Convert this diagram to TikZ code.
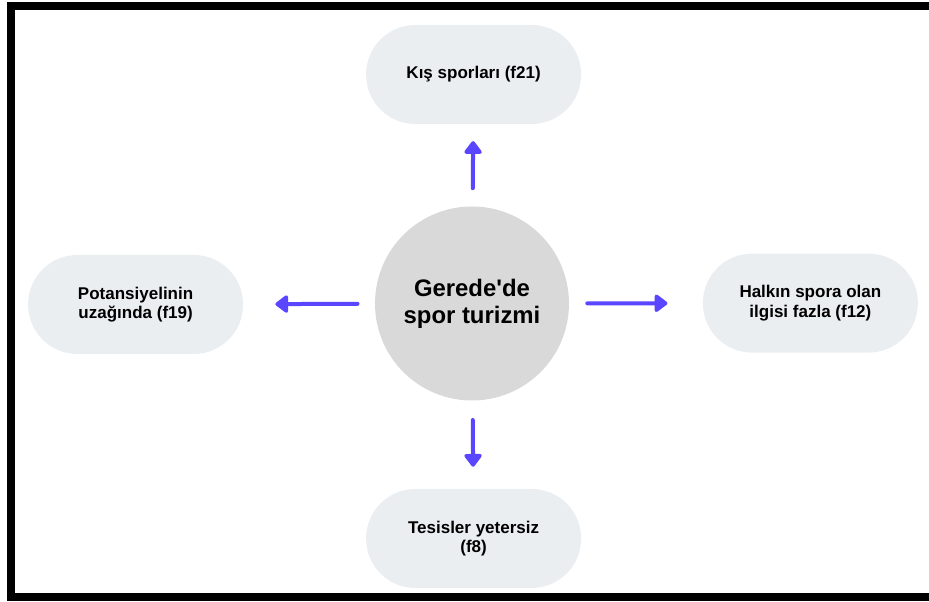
\documentclass[tikz,border=0pt]{standalone}
\usepackage{fontspec}
\setmainfont{Liberation Sans}
\usepackage{xcolor}
\usetikzlibrary{arrows.meta,positioning}

\definecolor{pillgray}{HTML}{EBEEF1}
\definecolor{hubgray}{HTML}{D9D9D9}
\definecolor{arrowblue}{HTML}{5A46FF}

\begin{document}
\begin{tikzpicture}[
    pill/.style={rectangle, rounded corners=1.23cm, minimum width=5.375cm, minimum height=2.475cm, fill=pillgray, align=center, font=\fontsize{12.1}{13.7}\selectfont\bfseries},
    hub/.style={circle, minimum size=4.85cm, fill=hubgray, align=center, font=\fontsize{17}{19}\selectfont\bfseries},
    link/.style={-{Triangle[width=0.5cm,length=0.35cm,round]}, line width=0.1cm, line cap=round, arrowblue}
]
    % Page and frame
    \clip (-11.8,-7.4625) rectangle (11.425,7.5875);
    \draw[line width=0.2cm] (12,7.4375) -- (-11.525,7.4375) -- (-11.525,-7.35) -- (12,-7.35);

    % Central topic
    \node[hub] (center) at (0,0) {Gerede\textquotesingle de\\spor turizmi};

    % Factors
    \node[pill] (kis) at (0.04,5.725) {Kış sporları (f21)};
    \node[pill] (potansiyel) at (-8.41,-0.025) {Potansiyelinin\\uzağında (f19)};
    \node[pill] (halk) at (8.46,0.01) {Halkın spora olan\\ilgisi fazla (f12)};
    \node[pill] (tesis) at (0.04,-5.875) {Tesisler yetersiz\\(f8)};

    % Connections
    \draw[link, shorten <=0.45cm, shorten >=0.42cm] (center) -- (kis);
    \draw[link, shorten <=0.43cm, shorten >=0.8cm] (center) -- (potansiyel);
    \draw[link, shorten <=0.45cm, shorten >=0.88cm] (center) -- (halk);
    \draw[link, shorten <=0.48cm, shorten >=0.55cm] (center) -- (tesis);
\end{tikzpicture}
\end{document}
